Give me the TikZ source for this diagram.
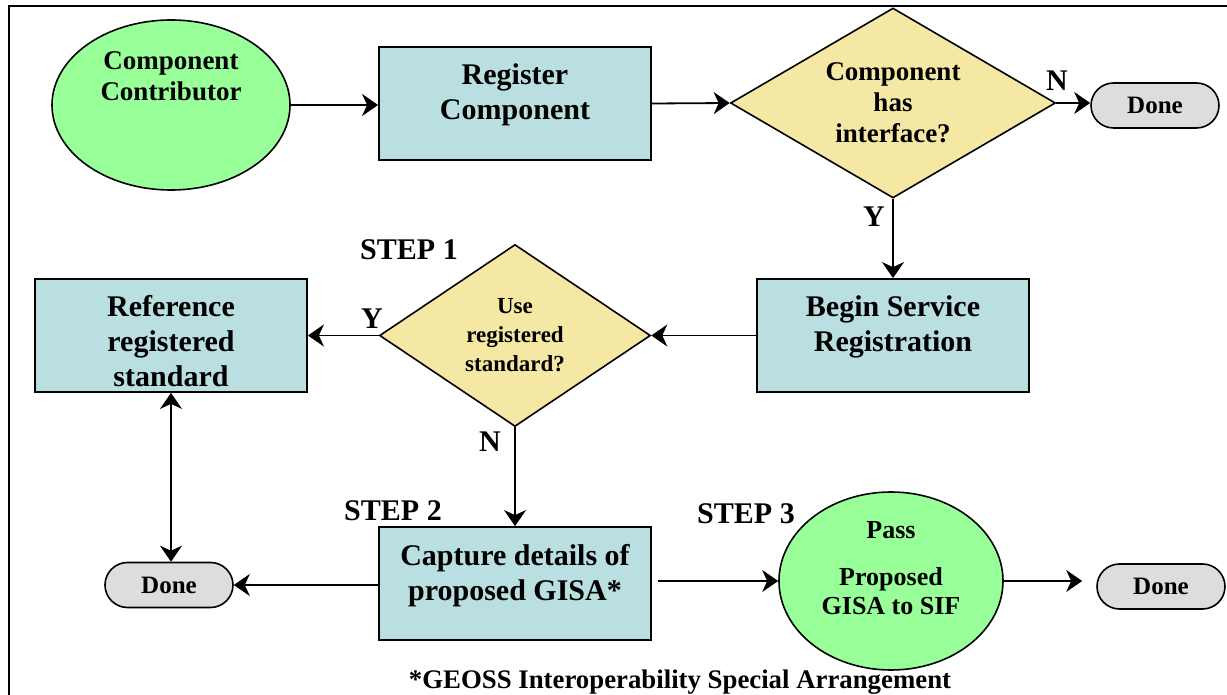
\documentclass[tikz,border=0pt]{standalone}
\usepackage{fontspec}
\setmainfont{Liberation Serif}
\usetikzlibrary{shapes.geometric,shapes.misc,arrows.meta}
\definecolor{startgreen}{HTML}{99FF99}
\definecolor{boxblue}{HTML}{B9DFE1}
\definecolor{askyellow}{HTML}{F5E8A5}
\definecolor{donegray}{HTML}{DDDDDD}
\tikzstyle{bluebox}=[rectangle,draw=black,fill=boxblue,line width=0.9pt,
                     minimum width=136pt,minimum height=56.5pt]
\tikzstyle{greenblob}=[ellipse,draw=black,fill=startgreen,line width=0.8pt,
                       inner sep=0pt]
\tikzstyle{askdiamond}=[diamond,draw=black,fill=askyellow,line width=0.8pt,
                        inner sep=0pt,align=center]
\tikzstyle{donepill}=[rounded rectangle,draw=black,fill=donegray,line width=0.8pt,
                      inner sep=0pt,minimum width=64pt,minimum height=22.5pt,
                      font=\bfseries\fontsize{12.5}{14}\selectfont]
\tikzstyle{bigtext}=[align=center,inner sep=0pt,
                     font=\bfseries\fontsize{15}{17.5}\selectfont]
\tikzstyle{midtext}=[align=center,inner sep=0pt,
                     font=\bfseries\fontsize{13.5}{15.5}\selectfont]
\tikzstyle{flow}=[line width=0.9pt,>={Stealth[length=8pt,width=11pt,inset=2.5pt]}]

\begin{document}
\begin{tikzpicture}[x=0.5pt,y=-0.5pt]
    \useasboundingbox (0,0) rectangle (1227,695);
    \draw[line width=1.4pt] (9,720) -- (9,6) -- (1240,6);
    % top row
    \node (cc) at (171,105) [greenblob,minimum width=119pt,minimum height=85pt]{};
    \node (cctxt) at (171,76) [midtext]{Component\\Contributor};
    \node (reg) at (515,103.5) [bluebox]{};
    \node (regtxt) at (515,95) [bigtext]{Register\\Component};
    \node (d1) at (893,103) [askdiamond,minimum width=162.5pt,minimum height=95pt,
          aspect=1.7,font=\bfseries\fontsize{13.5}{15.5}\selectfont]
          {Component\\has\\interface?};
    \node (done1) at (1155,105.5) [donepill]{Done};
    % middle row
    \node (beg) at (893,335.5) [bluebox]{};
    \node (begtxt) at (893,327) [bigtext]{Begin Service\\Registration};
    \node (d2) at (515,335.5) [askdiamond,minimum width=135.5pt,minimum height=91pt,
          aspect=1.5,font=\bfseries\fontsize{11.5}{14.5}\selectfont]
          {Use\\registered\\standard?};
    \node (ref) at (171,335.5) [bluebox]{};
    \node (reftxt) at (171,341) [bigtext]{Reference\\registered\\standard};
    % bottom row
    \node (cap) at (515,583.5) [bluebox]{};
    \node (captxt) at (515,576) [bigtext]{Capture details of\\proposed GISA*};
    \node (done2) at (169,585) [donepill]{Done};
    \node (pass) at (891,581) [greenblob,minimum width=112pt,minimum height=89pt]{};
    \node (passtxt) at (891,568) [midtext,font=\bfseries\fontsize{13}{14.5}\selectfont]
          {Pass\\[9pt]Proposed\\GISA to SIF};
    \node (done3) at (1161,586.5) [donepill]{Done};
    % labels
    \node (n1) at (1057,81) [bigtext]{N};
    \node (y1) at (874,217) [bigtext]{Y};
    \node (y2) at (372,319) [bigtext]{Y};
    \node (n2) at (490,442) [bigtext]{N};
    \node (s1) at (409,250) [bigtext]{STEP 1};
    \node (s2) at (393,511) [bigtext]{STEP 2};
    \node (s3) at (746,514) [bigtext]{STEP 3};
    \node (note) at (680,688) [anchor=base,inner sep=0pt,
          font=\bfseries\fontsize{13.4}{15}\selectfont]
          {*GEOSS Interoperability Special Arrangement};
    % arrows
    \draw[flow,->] (cc.east) -- (cc.east -| reg.west);
    \draw[flow,->] (reg.east) -- (d1.west);
    \draw[flow,->] (d1.east) -- (d1.east -| done1.west);
    \draw[flow,->] (d1.south) -- (beg.north);
    \draw[flow,->] (beg.west) -- (d2.east);
    \draw[flow,->] (d2.west) -- (ref.east);
    \draw[flow,->] (d2.south) -- (cap.north);
    \draw[flow,<->] (ref.south) -- (ref.south |- done2.north);
    \draw[flow,->] (cap.west |- done2.east) -- (done2.east);
    \draw[flow,->,shorten <=3pt] (cap.east |- pass.west) -- (pass.west);
    \draw[flow,->,shorten >=7pt] (pass.east) -- (pass.east -| done3.west);
\end{tikzpicture}
\end{document}
